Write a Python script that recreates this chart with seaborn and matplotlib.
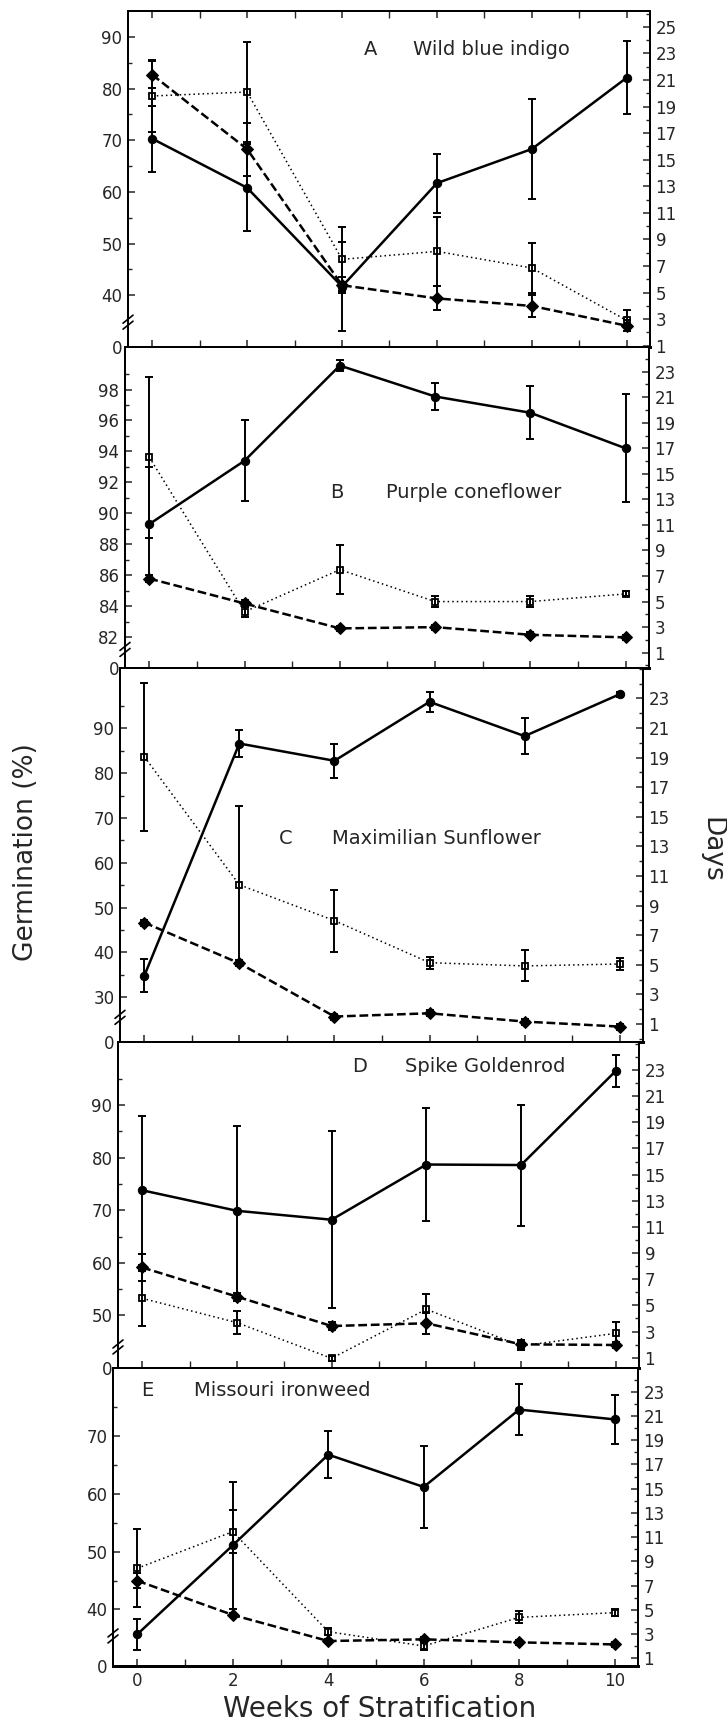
import matplotlib
matplotlib.use("Agg")
import matplotlib.pyplot as plt
from matplotlib.ticker import FixedLocator, MultipleLocator
import seaborn as sns

sns.set_style("ticks")
plt.rcParams['font.family'] = ['DejaVu Sans']

weeks = [0, 2, 4, 6, 8, 10]

# A  Wild blue indigo
germ_a = [70.3, 60.8, 41.7, 61.7, 68.3, 82.1]
germ_a_err = [6.4, 8.4, 8.6, 5.7, 9.6, 7.0]
sq_a = [19.8, 20.1, 7.5, 8.1, 6.85, 2.9]
sq_a_err = [2.7, 3.8, 2.4, 2.6, 1.9, 0.8]
di_a = [21.4, 15.8, 5.55, 4.56, 3.99, 2.5]
di_a_err = [1.0, 2.0, 0.6, 0.9, 0.8, 0.4]

# B  Purple coneflower
germ_b = [89.3, 93.4, 99.55, 97.55, 96.5, 94.2]
germ_b_err = [3.7, 2.6, 0.35, 0.9, 1.7, 3.5]
sq_b = [16.3, 4.2, 7.5, 5.0, 5.0, 5.6]
sq_b_err = [6.3, 0.4, 1.9, 0.4, 0.4, 0.2]
di_b = [6.8, 4.85, 2.9, 3.0, 2.4, 2.2]
di_b_err = [0.3, 0.3, 0.2, 0.2, 0.2, 0.2]

# C  Maximilian Sunflower
germ_c = [34.75, 86.6, 82.75, 95.9, 88.25, 97.6]
germ_c_err = [3.7, 3.1, 3.8, 2.3, 4.0, 0.6]
sq_c = [19.06, 10.4, 7.98, 5.14, 4.92, 5.05]
sq_c_err = [5.0, 5.3, 2.1, 0.4, 1.05, 0.4]
di_c = [7.85, 5.1, 1.5, 1.72, 1.16, 0.82]
di_c_err = [0.2, 0.2, 0.2, 0.2, 0.2, 0.2]

# D  Spike Goldenrod
germ_d = [73.8, 69.9, 68.2, 78.7, 78.6, 96.5]
germ_d_err = [14.2, 16.2, 16.8, 10.8, 11.5, 3.0]
sq_d = [5.54, 3.68, 0.95, 4.7, 1.9, 2.86]
sq_d_err = [2.1, 0.9, 0.2, 1.2, 0.3, 0.9]
di_d = [7.9, 5.67, 3.42, 3.63, 2.02, 1.97]
di_d_err = [1.05, 0.3, 0.3, 0.8, 0.3, 0.2]

# E  Missouri ironweed
germ_e = [35.7, 51.1, 66.8, 61.2, 74.6, 72.9]
germ_e_err = [2.7, 11.0, 4.1, 7.1, 4.4, 4.2]
sq_e = [8.43, 11.45, 3.2, 2.02, 4.38, 4.77]
sq_e_err = [3.2, 1.8, 0.3, 0.3, 0.5, 0.3]
di_e = [7.4, 4.58, 2.43, 2.57, 2.32, 2.15]
di_e_err = [0.6, 0.2, 0.2, 0.2, 0.2, 0.2]

letters = ['A', 'B', 'C', 'D', 'E']
names = ['Wild blue indigo', 'Purple coneflower', 'Maximilian Sunflower',
         'Spike Goldenrod', 'Missouri ironweed']
left_ticks = [[40, 50, 60, 70, 80, 90],
              [82, 84, 86, 88, 90, 92, 94, 96, 98],
              [30, 40, 50, 60, 70, 80, 90],
              [50, 60, 70, 80, 90],
              [40, 50, 60, 70]]
right_max = [25, 23, 23, 23, 23]

# layout in pixels of the 727x1725 image: left, right, top, bottom
W, H = 727, 1725
boxes = [(128, 650, 11, 347), (125, 649, 347, 668), (120, 643, 668, 1042),
         (118, 639, 1042, 1368), (113, 638, 1368, 1666)]
left_lims = [(30, 95), (80, 100.75), (20, 103.45), (40, 102), (30.2, 81.8)]
right_lims = [(0.9, 26.2), (-0.2, 24.93), (-0.22, 25.05), (0.21, 25.14),
              (0.37, 24.95)]
breaks = [34.8, 81.2, 25.5, 44, 35.4]
label_pos = [(4.45, 5.5, 0.884), (3.8, 4.96, 0.548), (2.84, 3.95, 0.545),
             (4.43, 5.54, 0.926), (0.08, 1.19, 0.923)]

data = [(germ_a, germ_a_err, sq_a, sq_a_err, di_a, di_a_err),
        (germ_b, germ_b_err, sq_b, sq_b_err, di_b, di_b_err),
        (germ_c, germ_c_err, sq_c, sq_c_err, di_c, di_c_err),
        (germ_d, germ_d_err, sq_d, sq_d_err, di_d, di_d_err),
        (germ_e, germ_e_err, sq_e, sq_e_err, di_e, di_e_err)]

fig = plt.figure(figsize=(W / 100, H / 100), dpi=100)


def errbars(ax, y, err):
    ax.errorbar(weeks, y, yerr=err, fmt='none', ecolor='k', elinewidth=1.4,
                capsize=3, capthick=1.4)


for i in range(5):
    l, r, t, b = boxes[i]
    ax = fig.add_axes([l / W, 1 - b / H, (r - l) / W, (b - t) / H])
    ax2 = ax.twinx()
    germ, germ_err, sq, sq_err, di, di_err = data[i]

    # germination on the left scale
    sns.lineplot(x=weeks, y=germ, ax=ax, color='k', linewidth=1.8,
                 marker='o', markersize=6, markeredgecolor='k',
                 markerfacecolor='k')
    errbars(ax, germ, germ_err)

    # days on the right scale
    sns.lineplot(x=weeks, y=sq, ax=ax2, color='k', linewidth=1.1,
                 linestyle=(0, (1, 2)), marker='s', markersize=5,
                 markeredgecolor='k', markerfacecolor='white',
                 markeredgewidth=1.3)
    errbars(ax2, sq, sq_err)
    sns.lineplot(x=weeks, y=di, ax=ax2, color='k', linewidth=1.8,
                 linestyle=(0, (3.5, 1.5)), marker='D', markersize=6,
                 markeredgecolor='k', markerfacecolor='k')
    errbars(ax2, di, di_err)

    ax.set_xlim(-0.51, 10.49)
    ax.set_ylim(*left_lims[i])
    ax2.set_ylim(*right_lims[i])

    lo = left_lims[i][0]
    ticks = left_ticks[i]
    step = ticks[1] - ticks[0]
    ax.yaxis.set_major_locator(FixedLocator([lo] + ticks))
    ax.set_yticklabels(['0'] + [str(v) for v in ticks])
    minors = [v + step / 2 for v in ticks if v + step / 2 < left_lims[i][1]]
    ax.yaxis.set_minor_locator(FixedLocator(minors))

    rt = [v for v in range(1, right_max[i] + 1, 2) if v >= right_lims[i][0]]
    ax2.yaxis.set_major_locator(FixedLocator(rt))
    ax2.set_yticklabels([str(v) for v in rt])
    ax2.yaxis.set_minor_locator(MultipleLocator(1))

    ax.xaxis.set_minor_locator(MultipleLocator(1))
    ax.set_xticks(weeks)
    if i == 4:
        ax.set_xticklabels([str(w) for w in weeks])
    else:
        ax.set_xticklabels([])

    ax.tick_params(axis='both', which='major', direction='in', length=5,
                   width=1.1, labelsize=12, pad=4, top=(i == 0))
    ax.tick_params(axis='both', which='minor', direction='in', length=3,
                   width=1.0, top=(i == 0))
    ax.tick_params(axis='x', which='both', length=5)
    ax2.tick_params(axis='y', which='major', direction='in', length=5,
                    width=1.1, labelsize=12, pad=4)
    ax2.tick_params(axis='y', which='minor', direction='in', length=3,
                    width=1.0)

    for a in (ax, ax2):
        for s in a.spines.values():
            s.set_linewidth(1.4)
            s.set_color('k')
        a.spines['bottom'].set_linewidth(2.0)
        a.set_xlabel('')
        a.set_ylabel('')

    # break marks on the left axis
    hpx = b - t
    wpx = r - l
    yb = (breaks[i] - lo) / (left_lims[i][1] - lo)
    ax.plot([0, 0], [yb - 3 / hpx, yb + 3 / hpx], color='white', lw=3,
            transform=ax.transAxes, clip_on=False, zorder=5)
    for off in (-3, 3):
        ax.plot([-5 / wpx, 5 / wpx], [yb + (off - 4) / hpx, yb + (off + 4) / hpx],
                color='k', lw=1.2, transform=ax.transAxes, clip_on=False,
                zorder=6)

    lx, nx, ty = label_pos[i]
    tr = ax.get_xaxis_transform()
    ax2.text(lx, ty, letters[i], transform=tr, fontsize=14, va='center')
    ax2.text(nx, ty, names[i], transform=tr, fontsize=14, va='center')

fig.text(26 / W, 1 - 852 / H, 'Germination (%)', rotation=90, ha='center',
         va='center', fontsize=19)
fig.text(711 / W, 1 - 850 / H, 'Days', rotation=270, ha='center',
         va='center', fontsize=19)
fig.text(380 / W, 2 / H, 'Weeks of Stratification', ha='center',
         va='bottom', fontsize=20)

fig.savefig('out.png', dpi=100)
